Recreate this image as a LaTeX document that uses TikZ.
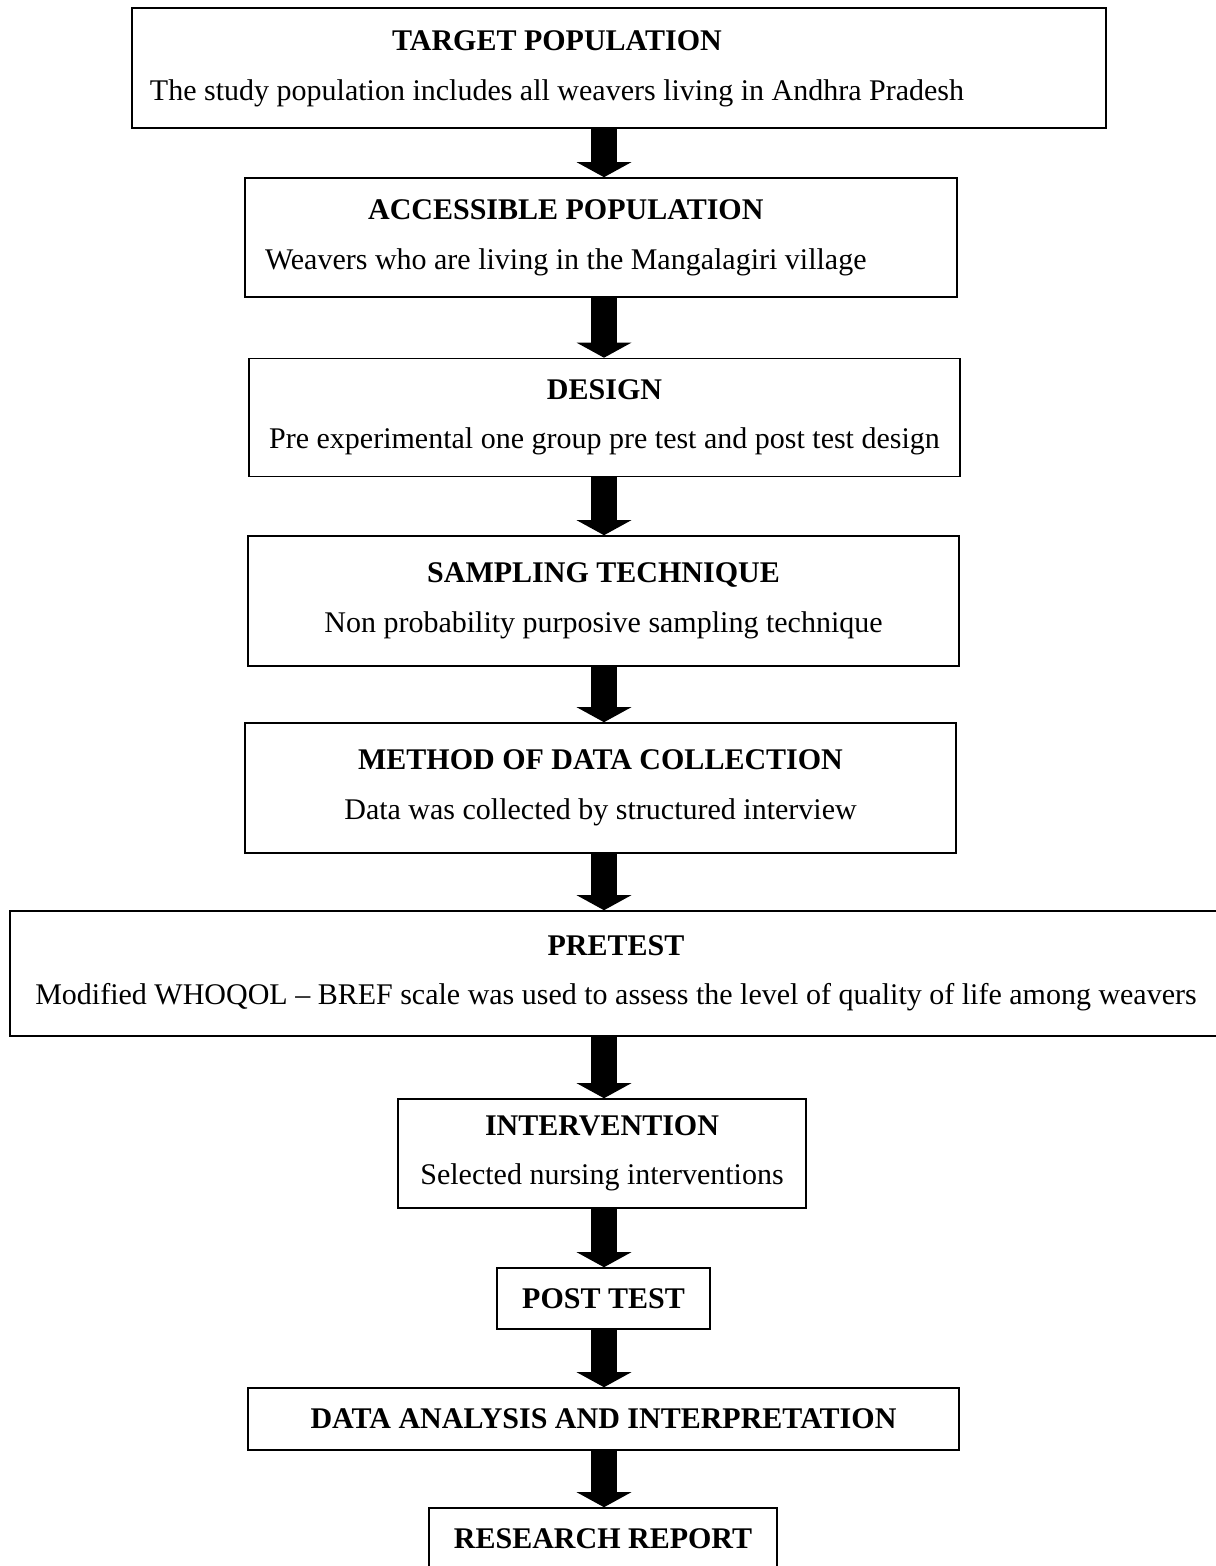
\documentclass[tikz,border=0pt]{standalone}
\usepackage{fontspec}
\setmainfont{Liberation Serif}
\usetikzlibrary{arrows.meta}

\newcommand{\pu}{0.45pt}
\tikzset{
	stepbox/.style={draw, line width=0.7pt, align=center, inner sep=0pt, font=\fontsize{13.5}{16.3}\selectfont},
	leftbox/.style={draw, line width=0.7pt, align=flush left, inner ysep=0pt, font=\fontsize{13.5}{16.3}\selectfont},
	blockarrow/.style={line width=11.7pt, -{Triangle[width=24.3pt, length=6.75pt]}}
}

\begin{document}
\begin{tikzpicture}[x=\pu, y=-\pu]
		\useasboundingbox (0, 0) rectangle (1216, 1566);
		\clip (0, 0) rectangle (1216, 1566);

		\draw (619, 68) 	node[leftbox, inner xsep=8.1pt, text width=422.1pt, minimum height=120*\pu] (target)
			{\begin{tabular}{@{}c@{}}\textbf{TARGET POPULATION}\\[6pt] The study population includes all weavers living in Andhra Pradesh\end{tabular}};
		\draw (601, 237.5) 	node[leftbox, inner xsep=9pt, text width=302.4pt, minimum height=119*\pu] (access)
			{\begin{tabular}{@{}c@{}}\textbf{ACCESSIBLE POPULATION}\\[6pt] Weavers who are living in the Mangalagiri village\end{tabular}};
		\draw (604.5, 417.5) 	node[stepbox, minimum width=711*\pu, minimum height=118*\pu] (design)
			{\textbf{DESIGN}\\[6pt] Pre experimental one group pre test and post test design};
		\draw (603.5, 601) 	node[stepbox, minimum width=711*\pu, minimum height=130*\pu] (sampling)
			{\textbf{SAMPLING TECHNIQUE}\\[6pt] Non probability purposive sampling technique};
		\draw (600.5, 788) 	node[stepbox, minimum width=711*\pu, minimum height=130*\pu] (method)
			{\textbf{METHOD OF DATA COLLECTION}\\[6pt] Data was collected by structured interview};
		\draw (616, 973.5) 	node[stepbox, minimum width=1212*\pu, minimum height=125*\pu] (pretest)
			{\textbf{PRETEST}\\[6pt] Modified WHOQOL -- BREF scale was used to assess the level of quality of life among weavers};
		\draw (602, 1153.5) 	node[stepbox, minimum width=408*\pu, minimum height=109*\pu] (interv)
			{\textbf{INTERVENTION}\\[6pt] Selected nursing interventions};
		\draw (603.5, 1298.5) 	node[stepbox, minimum width=213*\pu, minimum height=61*\pu] (posttest)
			{\textbf{POST TEST}};
		\draw (603.5, 1419) 	node[stepbox, minimum width=711*\pu, minimum height=62*\pu] (analysis)
			{\textbf{DATA ANALYSIS AND INTERPRETATION}};
		\draw (603, 1539) 	node[stepbox, minimum width=348*\pu, minimum height=62*\pu] (report)
			{\textbf{RESEARCH REPORT}};

		\coordinate (axis) at (604, 0);
		\foreach \a/\b in {target/access, access/design, design/sampling, sampling/method, method/pretest,
				pretest/interv, interv/posttest, posttest/analysis, analysis/report}
			\draw[blockarrow] (axis |- \a.south) -- (axis |- \b.north);
	\end{tikzpicture}
\end{document}
